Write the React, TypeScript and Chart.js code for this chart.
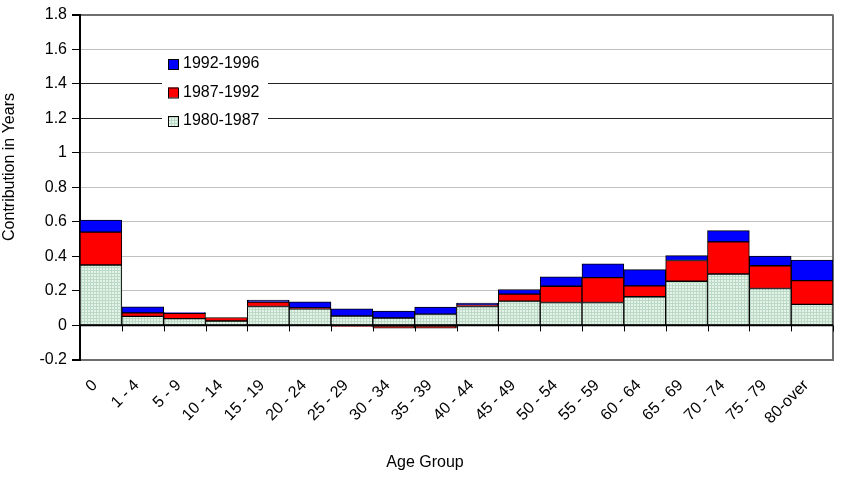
import React, { useEffect, useRef } from "react";
import { Chart, registerables } from "chart.js";

Chart.register(...registerables);

const ageGroups = ["0", "1 - 4", "5 - 9", "10 - 14", "15 - 19", "20 - 24", "25 - 29", "30 - 34", "35 - 39", "40 - 44", "45 - 49", "50 - 54", "55 - 59", "60 - 64", "65 - 69", "70 - 74", "75 - 79", "80-over"];

const period1980_1987 = [0.35, 0.053, 0.04, 0.026, 0.11, 0.097, 0.055, 0.043, 0.066, 0.11, 0.141, 0.133, 0.133, 0.166, 0.256, 0.298, 0.214, 0.122];
const period1987_1992 = [0.19, 0.02, 0.03, 0.02, 0.025, 0.005, -0.006, -0.015, -0.015, 0.008, 0.04, 0.094, 0.144, 0.063, 0.12, 0.186, 0.132, 0.138];
const period1992_1996 = [0.07, 0.035, 0.005, 0.0, 0.012, 0.035, 0.042, 0.04, 0.04, 0.012, 0.027, 0.054, 0.08, 0.094, 0.028, 0.065, 0.056, 0.119];

const seriesLabels = ["1980-1987", "1987-1992", "1992-1996"];
const yTicks = [-0.2, 0, 0.2, 0.4, 0.6, 0.8, 1, 1.2, 1.4, 1.6, 1.8];

const FONT = "'Liberation Sans', Arial, sans-serif";
const FS = 16;

function makePattern(): CanvasPattern | string {
  const c = document.createElement("canvas");
  c.width = 3;
  c.height = 3;
  const g = c.getContext("2d");
  if (!g) return "#dcefe2";
  g.fillStyle = "#e4f3e9";
  g.fillRect(0, 0, 3, 3);
  g.fillStyle = "#bcd9c6";
  g.fillRect(0, 0, 1, 3);
  g.fillRect(0, 0, 3, 1);
  const p = g.createPattern(c, "repeat");
  return p || "#dcefe2";
}

export default function App() {
  const ref = useRef<HTMLCanvasElement | null>(null);

  useEffect(() => {
    const canvas = ref.current;
    if (!canvas) return;
    const pattern = makePattern();

    const overlay = {
      id: "overlay",
      afterDatasetsDraw(chart: any) {
        const ctx = chart.ctx;
        const y = chart.scales.y;
        const y0 = y.getPixelForValue(0);
        const area = chart.chartArea;
        ctx.save();
        ctx.strokeStyle = "#000";
        ctx.lineWidth = 1.5;
        ctx.beginPath();
        ctx.moveTo(area.left, y0);
        ctx.lineTo(area.right, y0);
        ctx.stroke();
        ctx.lineWidth = 1;
        const n = ageGroups.length;
        const w = (area.right - area.left) / n;
        for (let i = 1; i <= n; i++) {
          const px = Math.round(area.left + i * w) + 0.5;
          ctx.beginPath();
          ctx.moveTo(px, y0);
          ctx.lineTo(px, y0 + 6);
          ctx.stroke();
        }
        ctx.restore();
      },
      afterDraw(chart: any) {
        const ctx = chart.ctx;
        ctx.save();
        // legend box
        ctx.fillStyle = "#fff";
        ctx.fillRect(162, 50, 106, 85);
        const items = [
          { label: seriesLabels[2], color: "#0000ff" },
          { label: seriesLabels[1], color: "#ff0000" },
          { label: seriesLabels[0], color: pattern },
        ];
        ctx.font = `${FS}px ${FONT}`;
        ctx.textBaseline = "middle";
        ctx.textAlign = "left";
        items.forEach((it, i) => {
          const cy = 64 + i * 28.5;
          ctx.fillStyle = it.color as any;
          ctx.fillRect(168, cy - 5, 10, 10);
          ctx.strokeStyle = "#000";
          ctx.lineWidth = 1;
          ctx.strokeRect(168.5, cy - 4.5, 10, 10);
          ctx.fillStyle = "#000";
          ctx.fillText(it.label, 183, cy);
        });
        // titles
        ctx.fillStyle = "#000";
        ctx.textAlign = "center";
        ctx.fillText("Age Group", 425, 463);
        ctx.translate(10, 167);
        ctx.rotate(-Math.PI / 2);
        ctx.fillText("Contribution in Years", 0, 0);
        ctx.restore();
      },
    };

    const chart = new Chart(canvas, {
      type: "bar",
      data: {
        labels: ageGroups,
        datasets: [
          { label: seriesLabels[0], data: period1980_1987, backgroundColor: pattern as any, borderColor: "#000", borderWidth: 1, borderSkipped: false },
          { label: seriesLabels[1], data: period1987_1992, backgroundColor: "#ff0000", borderColor: "#000", borderWidth: 1, borderSkipped: false },
          { label: seriesLabels[2], data: period1992_1996, backgroundColor: "#0000ff", borderColor: "#000", borderWidth: 1, borderSkipped: false },
        ],
      },
      options: {
        responsive: false,
        animation: false,
        events: [],
        layout: { padding: { top: 12, right: 9, left: 0, bottom: 0 } },
        plugins: { legend: { display: false }, tooltip: { enabled: false } },
        datasets: { bar: { barPercentage: 1, categoryPercentage: 1 } },
        scales: {
          x: {
            stacked: true,
            grid: { display: false, drawTicks: false },
            border: { display: true, color: "#6e6e6e", width: 2 },
            ticks: {
              autoSkip: false,
              maxRotation: 45,
              minRotation: 45,
              padding: 16,
              labelOffset: -6,
              color: "#000",
              font: { family: FONT, size: FS },
            },
            afterFit: (s: any) => {
              s.height = 122;
            },
          },
          y: {
            stacked: true,
            min: -0.2,
            max: 1.8,
            afterBuildTicks: (s: any) => {
              s.ticks = yTicks.map((v) => ({ value: v }));
            },
            grid: {
              color: (c: any) => {
                const v = c.tick ? Math.round(c.tick.value * 10) / 10 : 0;
                if (v === 1.4 || v === 1.2) return "#222";
                if (v === 1.8) return "#6e6e6e";
                if (v === -0.2) return "#6e6e6e";
                return "#c0c0c0";
              },
              lineWidth: (c: any) => {
                const v = c.tick ? Math.round(c.tick.value * 10) / 10 : 0;
                if (v === 1.8 || v === -0.2) return 2;
                return 1;
              },
              tickColor: "#000",
              tickLength: 8,
            },
            border: { display: true, color: "#000", width: 2 },
            ticks: {
              padding: 5,
              color: "#000",
              font: { family: FONT, size: FS },
              callback: (v: any) => String(Math.round(Number(v) * 10) / 10),
            },
            afterFit: (s: any) => {
              s.width = 80;
            },
          },
        },
      },
      plugins: [
        overlay,
        {
          id: "rightBorder",
          beforeDatasetsDraw(chart: any) {
            const a = chart.chartArea;
            const ctx = chart.ctx;
            ctx.save();
            ctx.strokeStyle = "#6e6e6e";
            ctx.lineWidth = 2;
            ctx.beginPath();
            ctx.moveTo(a.right, a.top);
            ctx.lineTo(a.right, a.bottom);
            ctx.stroke();
            ctx.restore();
          },
        },
      ],
    } as any);

    return () => chart.destroy();
  }, []);

  return (
    <div style={{ position: "absolute", left: 0, top: 0, width: 842, height: 482, background: "#fff" }}>
      <canvas ref={ref} width={842} height={482} style={{ width: 842, height: 482, display: "block" }} />
    </div>
  );
}
